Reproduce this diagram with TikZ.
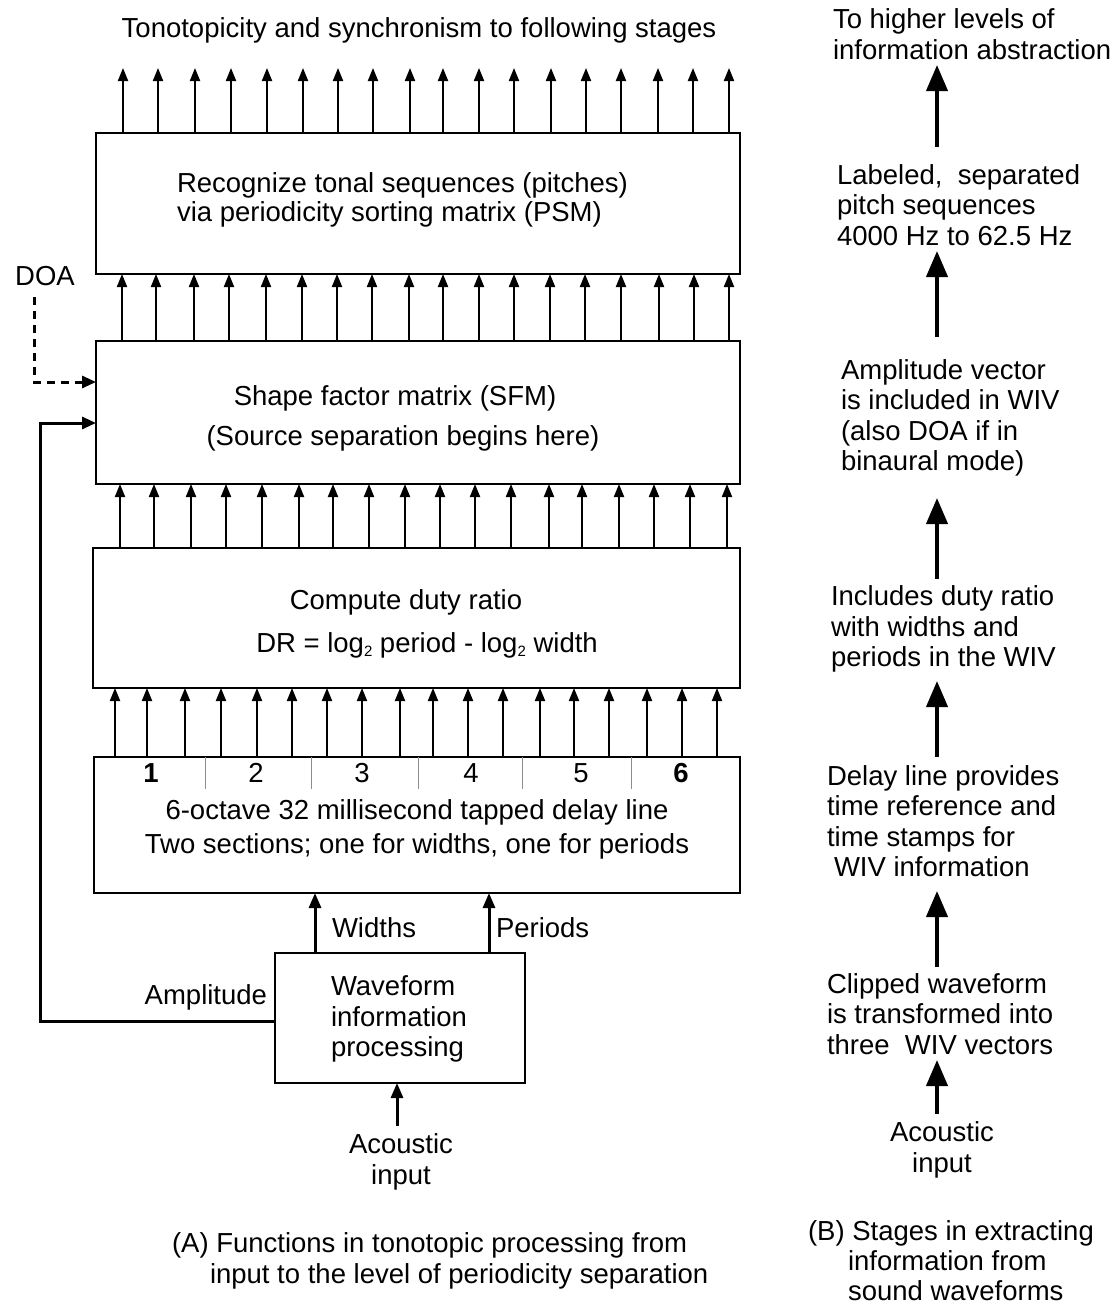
\documentclass[tikz,border=0pt]{standalone}
\usepackage{fontspec}
\setmainfont{Liberation Sans}
\usetikzlibrary{arrows.meta}
\newcommand{\lowtwo}{\raisebox{-4pt}{\fontsize{15}{15}\selectfont 2}}
\begin{document}
\begin{tikzpicture}[x=1pt,y=-1pt,
  every node/.style={font=\fontsize{27.5}{30.5}\selectfont, inner sep=0pt, outer sep=0pt},
  box/.style={draw, line width=2pt, anchor=north west, inner sep=0pt},
  tap/.style={line width=2pt, -{Triangle[length=13pt,width=10pt]}},
  feed/.style={line width=3pt, -{Triangle[length=15pt,width=12pt]}},
  stage/.style={line width=4pt, -{Triangle[length=26pt,width=21pt]}},
  divider/.style={line width=0.8pt, black!45},
  doaline/.style={line width=3pt, dash pattern=on 8pt off 6pt, -{Triangle[length=14pt,width=12pt]}},
]
\useasboundingbox (0,0) rectangle (1117,1306);

% title
\node (title) at (419,30) {Tonotopicity and synchronism to following stages};

% boxes
\node[box, minimum width=644pt, minimum height=141pt] (psm) at (96,133) {};
\node[box, minimum width=644pt, minimum height=143pt] (sfm) at (96,341) {};
\node[box, minimum width=647pt, minimum height=140pt] (dr) at (93,548) {};
\node[box, minimum width=646pt, minimum height=136pt] (delay) at (94,757) {};
\node[box, minimum width=250pt, minimum height=130pt] (wave) at (275,953) {};

% box texts
\node[align=left, anchor=west, font=\fontsize{27.5}{29.5}\selectfont] (psmtxt) at (177,200)
  {Recognize tonal sequences (pitches)\\via periodicity sorting matrix (PSM)};
\node (sfmtxt1) at (395,398) {Shape factor matrix (SFM)};
\node (sfmtxt2) at (403,438) {(Source separation begins here)};
\node (drtxt1) at (406,602) {Compute duty ratio};
\node (drtxt2) at (427,645) {DR = log\lowtwo{} period - log\lowtwo{} width};
\node (deltxt1) at (417,812) {6-octave 32 millisecond tapped delay line};
\node (deltxt2) at (417,846) {Two sections; one for widths, one for periods};
\node[align=left, anchor=west] (wavetxt) at (331,1019) {Waveform\\information\\processing};

% delay line sections
\foreach \x in {205,311,418,522,631}
  \draw[divider] (\x,0 |- delay.north) -- (\x,789);
\node[font=\fontsize{27.5}{30.5}\selectfont\bfseries] (n1) at (151,773) {1};
\node (n2) at (256,773) {2};
\node (n3) at (362,773) {3};
\node (n4) at (471,773) {4};
\node (n5) at (581,773) {5};
\node[font=\fontsize{27.5}{30.5}\selectfont\bfseries] (n6) at (681,773) {6};

% tap arrows
\foreach \x in {123,158,195,231,267,303,338,373,410,443,479,514,551,586,621,658,693,729}
  \draw[tap] (\x,0 |- psm.north) -- (\x,68);
\foreach \x in {122,156,194,229,266,302,337,372,409,443,479,514,550,585,621,659,694,729}
  \draw[tap] (\x,0 |- sfm.north) -- (\x,0 |- psm.south);
\foreach \x in {120,154,191,226,262,299,333,369,405,440,475,511,549,582,619,654,690,727}
  \draw[tap] (\x,0 |- dr.north) -- (\x,0 |- sfm.south);
\foreach \x in {115,147,185,221,257,292,327,362,400,433,468,503,540,574,609,647,682,717}
  \draw[tap] (\x,0 |- delay.north) -- (\x,0 |- dr.south);

% waveform outputs
\draw[feed] (315,0 |- wave.north) -- (315,0 |- delay.south);
\draw[feed] (489,0 |- wave.north) -- (489,0 |- delay.south);
\node[anchor=west] (widths) at (332,928) {Widths};
\node[anchor=west] (periods) at (496,928) {Periods};

% amplitude feedback
\coordinate (ampcorner) at (40,1021);
\draw[line width=3pt, -{Triangle[length=14pt,width=12pt]}]
  (wave.west |- ampcorner) -- (ampcorner) |- (sfm.west |- 0,423);
\node[anchor=east] (amp) at (267,997) {Amplitude};

% DOA
\node (doa) at (45,276) {DOA};
\coordinate (doatail) at (34,297);
\draw[doaline] (doatail) |- (sfm.west |- 0,382);

% acoustic input (A)
\node[align=center] (acA) at (401,1162) {Acoustic\\input};
\draw[feed] (397,1126) -- (397,0 |- wave.south);

% caption A
\node[align=left, anchor=west] (capA) at (172,1261)
  {(A) Functions in tonotopic processing from\\\hspace*{38pt}input to the level of periodicity separation};

% right column
\node[align=left, anchor=west] (r1) at (833,34) {To higher levels of\\information abstraction};
\node[align=left, anchor=west] (r2) at (837,205) {Labeled,\ \ separated\\pitch sequences\\4000 Hz to 62.5 Hz};
\node[align=left, anchor=west] (r3) at (841,418) {Amplitude vector\\is included in WIV\\(also DOA if in\\binaural mode)};
\node[align=left, anchor=west] (r4) at (831,629) {Includes duty ratio\\with widths and\\periods in the WIV};
\node[align=left, anchor=west] (r5) at (827,821) {Delay line provides\\time reference and\\time stamps for\\\hspace*{7pt}WIV information};
\node[align=center] (r7) at (942,1150) {Acoustic\\input};
\node[align=left, anchor=west] (r6) at (827,1014) {Clipped waveform\\is transformed into\\three\ \ WIV vectors};
\node[align=left, anchor=west, font=\fontsize{27.5}{30}\selectfont] (capB) at (808,1261)
  {(B) Stages in extracting\\\hspace*{40pt}information from\\\hspace*{40pt}sound waveforms};

\draw[stage] (937,147) -- (937,65);
\draw[stage] (937,337) -- (937,251);
\draw[stage] (937,579) -- (937,498);
\draw[stage] (937,757) -- (937,681);
\draw[stage] (937,967) -- (937,891);
\draw[stage] (937,1114) -- (937,1060);
\end{tikzpicture}
\end{document}
